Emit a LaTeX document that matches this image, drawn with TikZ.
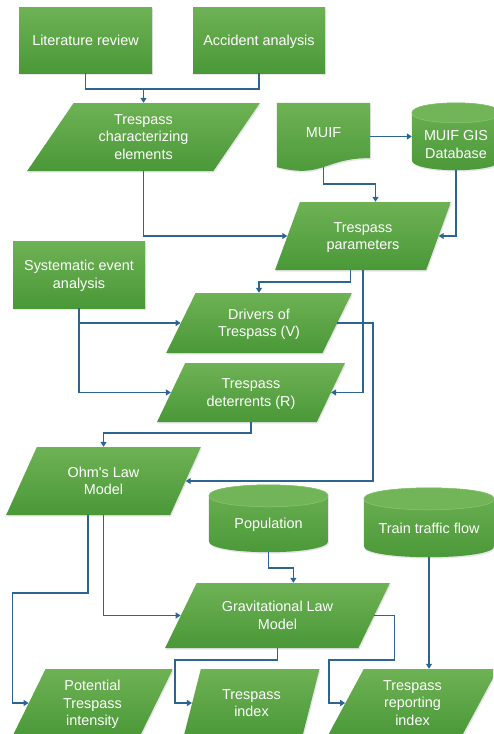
\documentclass[tikz,border=0pt]{standalone}
\usepackage{fontspec}
\setmainfont{Liberation Sans}
\usetikzlibrary{shapes.geometric,arrows.meta,calc,shadows,backgrounds}
\definecolor{gtop}{RGB}{110,178,84}
\definecolor{gbot}{RGB}{74,152,56}
\definecolor{gface}{RGB}{114,181,88}
\definecolor{grim}{RGB}{140,198,116}
\definecolor{conncol}{RGB}{44,100,146}
\newcommand\mycyl[2]{%
  \path[gfill,shad] ($(#1.north west)+(0,#2)$) -- ($(#1.south west)+(0,-#2)$)
    .. controls ($(#1.south west)+(0,{0.333*#2})$) and ($(#1.south east)+(0,{0.333*#2})$) .. ($(#1.south east)+(0,-#2)$)
    -- ($(#1.north east)+(0,#2)$)
    .. controls ($(#1.north east)+(0,{-0.333*#2})$) and ($(#1.north west)+(0,{-0.333*#2})$) .. ($(#1.north west)+(0,#2)$) -- cycle;
  \path[fill=gface,draw=grim,line width=0.5pt] ($(#1.north west)+(0,#2)$)
    .. controls ($(#1.north west)+(0,{-0.333*#2})$) and ($(#1.north east)+(0,{-0.333*#2})$) .. ($(#1.north east)+(0,#2)$)
    .. controls ($(#1.north east)+(0,{2.333*#2})$) and ($(#1.north west)+(0,{2.333*#2})$) .. ($(#1.north west)+(0,#2)$) -- cycle;
}
\begin{document}
\begin{tikzpicture}[x=1pt,y=-1pt,
  base/.style={text=white,font=\fontsize{14.4}{17.5}\selectfont,align=center,inner sep=1pt,text depth=0pt},
  gfill/.style={top color=gtop,bottom color=gbot},
  shad/.style={drop shadow={opacity=0.2,shadow xshift=1pt,shadow yshift=-1.5pt}},
  procbox/.style={base,gfill,shad,rectangle},
  parabox/.style={base,gfill,shad,trapezium,trapezium stretches=true},
  holder/.style={base,rectangle,inner sep=0pt},
  link/.style={draw=conncol,line width=1.7pt},
  conn/.style={link,-{Triangle[length=5pt,width=6pt]}},
]
\useasboundingbox (0,0) rectangle (493,734);
\clip (0,0) rectangle (493,734);

\node[procbox,minimum width=133pt,minimum height=66pt] (lit) at (85.5,40) {Literature review};
\node[procbox,minimum width=132pt,minimum height=66pt] (acc) at (259,40) {Accident analysis};
\node[parabox,minimum width=233pt,minimum height=68pt,trapezium left angle=57,trapezium right angle=123] (tce) at (143.5,137) {Trespass\\characterizing\\elements};
\node[holder,minimum width=93pt,minimum height=68.5pt] (muif) at (323.5,137.25) {\raisebox{5pt}[\height][\depth]{MUIF}};
\node[holder,minimum width=88pt,minimum height=67pt,text height=43pt] (db) at (456,136.5) {MUIF GIS\\Database};
\node[parabox,minimum width=176pt,minimum height=68pt,trapezium left angle=63.4,trapezium right angle=116.6] (param) at (363,236) {Trespass\\parameters};
\node[procbox,minimum width=132pt,minimum height=67pt] (sys) at (79,274.5) {Systematic event\\analysis};
\node[parabox,minimum width=186pt,minimum height=60pt,trapezium left angle=57,trapezium right angle=123] (drv) at (259,323) {Drivers of\\Trespass (V)};
\node[parabox,minimum width=188pt,minimum height=59pt,trapezium left angle=56.5,trapezium right angle=123.5] (det) at (251,392.5) {Trespass\\deterrents (R)};
\node[parabox,minimum width=195pt,minimum height=68pt,trapezium left angle=60.5,trapezium right angle=119.5] (ohm) at (103.5,481) {Ohm\textquotesingle s Law\\Model};
\node[holder,minimum width=119pt,minimum height=67pt] (pop) at (268.5,518.5) {\raisebox{-5pt}[\height][\depth]{Population}};
\node[holder,minimum width=130pt,minimum height=69pt] (train) at (429,522.5) {\raisebox{-6pt}[\height][\depth]{Train traffic flow}};
\node[parabox,minimum width=225pt,minimum height=65pt,trapezium left angle=53.6,trapezium right angle=126.4] (grav) at (277.5,615.5) {Gravitational Law\\Model};
\node[parabox,minimum width=161pt,minimum height=68pt,trapezium left angle=65.5,trapezium right angle=114.5] (pot) at (92.5,703) {Potential\\Trespass\\intensity};
\node[parabox,minimum width=137pt,minimum height=68pt,trapezium left angle=70.6,trapezium right angle=109.4] (tind) at (251.5,703) {Trespass\\index};
\node[parabox,minimum width=171pt,minimum height=68pt,trapezium left angle=64.1,trapezium right angle=115.9] (rep) at (412.5,703) {Trespass\\reporting\\index};

\begin{scope}[on background layer]
  \path[gfill,shad] (muif.north west) -- (muif.north east) -- ($(muif.north east)!0.802!(muif.south east)$)
    .. controls ($(muif.north)!0.802!(muif.south)$) and ($(muif.north)!1.107!(muif.south)$) .. ($(muif.north west)!0.934!(muif.south west)$) -- cycle;
  \mycyl{db}{10}
  \mycyl{pop}{11}
  \mycyl{train}{11}
\end{scope}

\draw[link] (lit.south) -- ++(0,16) coordinate (j1) -| (acc.south);
\draw[conn] (j1 -| tce.north) -- (tce.north);
\draw[conn] (tce.south) |- (param.left side);
\draw[conn] (muif.east |- db.west) -- (db.west);
\draw[conn] ($(muif.north)!0.933!(muif.south)$) -- ++(0,17) -| (param.top side);
\draw[conn] (db.south) |- (param.right side);
\draw[conn] (param.bottom side) -- ++(0,12) -| (drv.north);
\draw[conn] (param.south) |- (det.right side);
\draw[conn] (sys.south) |- (drv.left side);
\draw[conn] (sys.south) |- (det.left side);
\draw[conn] (drv.right side) -- ++(35.5,0) |- (ohm.right side);
\draw[conn] (det.south) -- ++(0,11) -| (ohm.north);
\draw[conn] (ohm.bottom side) -- ++(0,78) -| ($(pot.left side)+(-16,0)$) -- (pot.left side);
\draw[conn] (ohm.south) |- (grav.left side);
\draw[conn] (pop.south) -- ++(0,16) -| (grav.top side);
\draw[conn] (grav.south) -- ++(0,12) -| ($(tind.left side)+(-17,0)$) -- (tind.left side);
\draw[conn] (grav.right side) -- ++(20,0) -- ++(0,44.5) -| ($(rep.left side)+(-16,0)$) -- (rep.left side);
\draw[conn] (train.south) -- (train.south |- rep.north);
\end{tikzpicture}
\end{document}
